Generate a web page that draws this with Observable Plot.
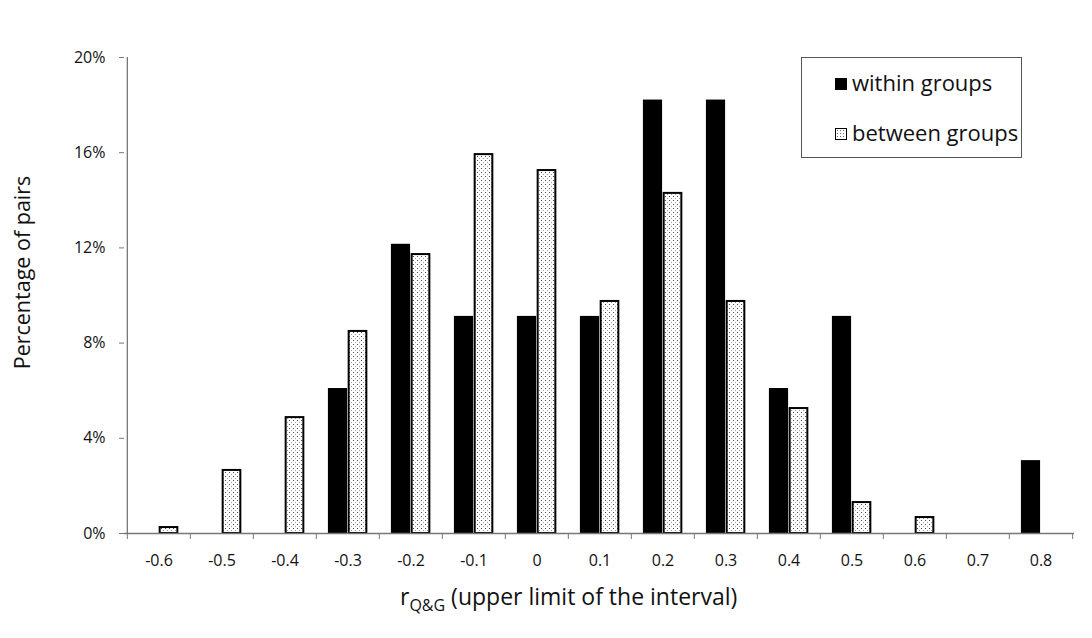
<!DOCTYPE html>
<html><head><meta charset="utf-8">
<script src="https://cdn.jsdelivr.net/npm/d3@7"></script>
<script src="https://cdn.jsdelivr.net/npm/@observablehq/plot@0.6"></script>
<style>
body{margin:0;background:#fff;}
#wrap{position:relative;width:1092px;height:638px;font-family:"Open Sans",sans-serif;}
#legend{position:absolute;left:801px;top:57px;width:221px;height:101px;border:1.3px solid #555;box-sizing:border-box;background:#fff;color:#111;font-size:22px;}
.sw{position:absolute;left:33px;width:12px;height:12px;box-sizing:border-box;border:1.6px solid #000;}
.lab{position:absolute;left:50px;line-height:24px;white-space:nowrap;}
</style></head>
<body><div id="wrap"><div id="chart"></div>
<div id="legend">
 <div class="sw" style="top:20px;background:#000"></div><div class="lab" style="top:12px">within groups</div>
 <div class="sw" style="top:70px;background:#fff radial-gradient(circle,#666 0.6px,transparent 0.8px) 0 0/3px 3px"></div><div class="lab" style="top:62px">between groups</div>
</div></div>
<script>
const categories = ["-0.6","-0.5","-0.4","-0.3","-0.2","-0.1","0","0.1","0.2","0.3","0.4","0.5","0.6","0.7","0.8"];
const withinGroups = [0,0,0,6.06,12.12,9.09,9.09,9.09,18.18,18.18,6.06,9.09,0,0,3.03];
const betweenGroups = [0.25,2.65,4.87,8.49,11.72,15.92,15.25,9.75,14.29,9.75,5.25,1.3,0.67,0,0];
const yTicks = [0,4,8,12,16,20];

const rows = categories.map((c,i)=>({cat:c, within:withinGroups[i], between:betweenGroups[i]}));

const W = 1092, H = 638, mL = 124, mR = 18, mT = 57, mB = 105;
const step = (W - mL - mR) / categories.length;
const half = step / 2;
const barW = 18, gap = 1;
const FONT = "'Open Sans', sans-serif";

const defs = () => {
  const d = d3.create("svg:defs");
  const p = d.append("pattern").attr("id","dots").attr("width",4).attr("height",4).attr("patternUnits","userSpaceOnUse");
  p.append("rect").attr("width",4).attr("height",4).attr("fill","#fff");
  p.append("rect").attr("x",1).attr("y",0).attr("width",1).attr("height",1).attr("fill","#444");
  p.append("rect").attr("x",3).attr("y",2).attr("width",1).attr("height",1).attr("fill","#999");
  return d.node();
};

const chart = Plot.plot({
  width: W, height: H,
  marginLeft: mL, marginRight: mR, marginTop: mT, marginBottom: mB,
  style: {fontFamily: FONT, color: "#111", background: "#fff"},
  x: {domain: categories, padding: 0, axis: null},
  y: {domain: [0,20], axis: null},
  marks: [
    defs,
    Plot.barY(rows, {filter: d => d.within > 0, x: "cat", y: "within", fill: "#000", stroke: "#000", strokeWidth: 1.5,
      insetLeft: half - gap - barW, insetRight: half + gap}),
    Plot.barY(rows, {filter: d => d.between > 0, x: "cat", y: "between", fill: "url(#dots)", stroke: "#000", strokeWidth: 2,
      insetLeft: half + gap, insetRight: half - gap - barW}),
    Plot.ruleY([0], {stroke: "#777", strokeWidth: 1.3}),
    Plot.ruleX([categories[0]], {dx: -half, stroke: "#777", strokeWidth: 1.3}),
    Plot.axisY({ticks: yTicks, tickFormat: d => d + "%", tickSize: 5, tickPadding: 14, label: null, fontSize: 16, stroke: "#777"}),
    Plot.axisX({tickSize: 0, tickPadding: 21, label: null, fontSize: 16}),
    Plot.axisX(categories, {text: null, label: null, tickSize: 6, dx: -half, stroke: "#777"}),
    Plot.axisX([categories[categories.length-1]], {text: null, label: null, tickSize: 6, dx: half, stroke: "#777"}),
    Plot.text(["Percentage of pairs"], {frameAnchor: "left", textAnchor: "middle", dx: -101, dy: -23, rotate: -90, fontSize: 21.5, fill: "#111"})
  ]
});
document.getElementById("chart").appendChild(chart);

const svg = d3.select(chart);
const t = svg.append("text").attr("x", 400).attr("y", 605).attr("text-anchor","start")
  .attr("font-size", 23).attr("fill", "#111").attr("font-family", FONT);
t.append("tspan").text("r");
t.append("tspan").attr("font-size", 16).attr("dy", 6).text("Q&G");
t.append("tspan").attr("dy", -6).text(" (upper limit of the interval)");
</script></body></html>
